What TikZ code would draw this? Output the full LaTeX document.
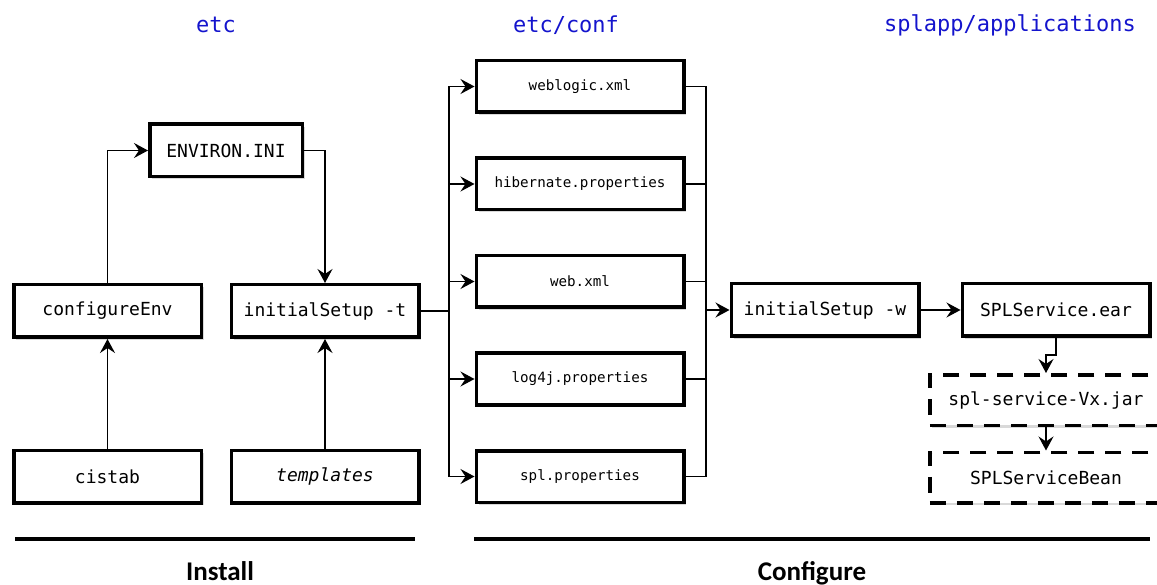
\documentclass[tikz,border=0pt]{standalone}
\usepackage{fontspec}
\setmonofont{DejaVu Sans Mono}
\newfontfamily\phasefont{Carlito}
\usetikzlibrary{arrows.meta}
\usetikzlibrary{shadows}
\usetikzlibrary{positioning}
\definecolor{dirblue}{RGB}{20,20,205}

\begin{document}
\begin{tikzpicture}[x=1pt, y=-1pt,
    >={Stealth[length=14pt, width=15pt, inset=5pt]},
    box/.style={draw, line width=3.5pt, fill=white, minimum width=187.5pt, minimum height=52.5pt,
      font=\ttfamily\fontsize{18}{21}\selectfont,
      drop shadow={opacity=0.3, shadow xshift=2.5pt, shadow yshift=-2.5pt}},
    file/.style={box, minimum width=207.5pt, minimum height=51.5pt, font=\ttfamily\fontsize{14.2}{17}\selectfont},
    jarbox/.style={box, minimum width=232.5pt, minimum height=50.5pt, dash pattern=on 16pt off 11pt},
    link/.style={line width=1.2pt},
    dir/.style={text=dirblue, font=\ttfamily\fontsize{22}{26}\selectfont},
    phase/.style={anchor=base, font=\phasefont\bfseries\fontsize{27}{32}\selectfont}]
    \useasboundingbox (0,0) rectangle (1157,585);
    \clip (0,0) rectangle (1157,585);

    \node[dir] (etc) at (216,25) {etc};
    \node[dir] (conf) at (566,25) {etc/conf};
    \node[dir] (apps) at (1010,25) {splapp/applications};

    \node[box, minimum width=152.5pt] (env) at (226,150.5) {ENVIRON.INI};
    \node[box] (cfg) at (107.5,311) {configureEnv};
    \node[box] (ist) at (325,311) {initialSetup -t};
    \node[box] (cistab) at (107.5,476.5) {cistab};
    \node[box] (tpl) at (325,476.5) {\itshape templates};

    \foreach \name/\txt [count=\i] in {weblogic/weblogic.xml, hibernate/hibernate.properties,
        web/web.xml, log4j/log4j.properties, spl/spl.properties}
      \node[file] (\name) at (580,-11+97.5*\i) {\txt};

    \node[box] (isw) at (825,310) {initialSetup -w};
    \node[box] (ear) at (1056,310) {SPLService.ear};
    \node[jarbox] (jar) at (1046,400) {spl-service-Vx.jar};
    \node[jarbox] (bean) at (1046,477.5) {SPLServiceBean};

    \draw[link,->] (cistab) -- (cfg);
    \draw[link,->] (tpl) -- (ist);
    \draw[link,->] (cfg.north) |- (env.west);
    \draw[link,->] (env.east) -| (ist.north);

    % bus into etc/conf and back out
    \coordinate (lbus) at (449,311);
    \coordinate (rbus) at (706,310);
    \draw[link, line width=2pt] (ist.east) -- (lbus);
    \draw[link] (lbus |- weblogic.west) -- (lbus |- spl.west);
    \foreach \name in {weblogic,hibernate,web,log4j,spl} {
      \draw[link,->] (lbus |- \name.west) -- (\name.west);
      \draw[link] (\name.east) -- (rbus |- \name.east);
    }
    \draw[link] (rbus |- weblogic.east) -- (rbus |- spl.east);
    \draw[link, line width=2pt, ->] (rbus) -- (isw.west);

    \draw[link,->] (isw) -- (ear);
    \coordinate (bend) at (1046,355);
    \draw[link,->] (ear.south) |- (bend) -- (jar.north);
    \draw[link,->] (jar) -- (bean);

    \draw[line width=4.5pt] (15,539) -- (415,539);
    \node[phase] (install) at (220,580) {Install};
    \draw[line width=4.5pt] (474,539) -- (1150,539);
    \node[phase] (configure) at (812,580) {Configure};
  \end{tikzpicture}
\end{document}
